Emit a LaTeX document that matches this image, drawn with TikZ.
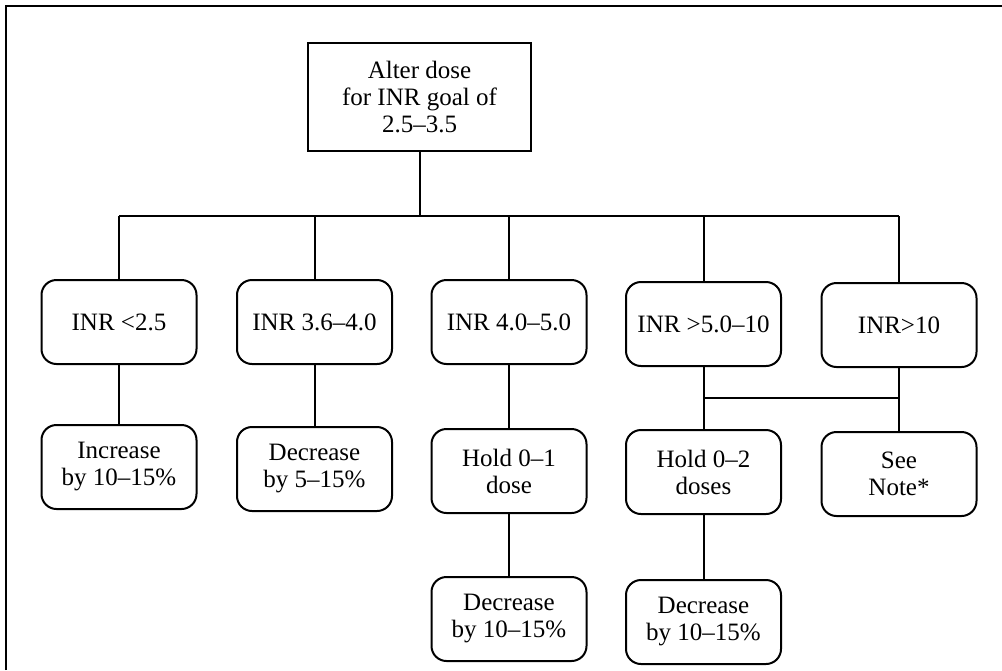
\documentclass[tikz,border=0pt]{standalone}
\usepackage{fontspec}
\setmainfont{Liberation Serif}
\begin{document}
\begin{tikzpicture}[x=1pt,y=-1pt,
  line width=2pt,
  topbox/.style={draw, minimum width=223pt, minimum height=108pt, align=center, inner sep=0pt, font=\fontsize{25}{27}\selectfont},
  stepbox/.style={draw, rounded corners=15pt, minimum width=155pt, minimum height=84pt, align=center, inner sep=0pt, font=\fontsize{25}{27}\selectfont},
  conn/.style={line width=2pt},
  frame/.style={line width=2pt}]
\useasboundingbox (0,0) rectangle (1002,670);
\draw[frame] (6,670) -- (6,6) -- (1002,6);

\node[topbox] (top) at (419.5,97) {Alter dose\\for INR goal of\\2.5–3.5};

\node[stepbox] (a1) at (119,322) {INR <2.5};
\node[stepbox] (b1) at (314.5,322) {INR 3.6–4.0};
\node[stepbox] (c1) at (509,322) {INR 4.0–5.0};
\node[stepbox] (d1) at (703.5,324) {INR >5.0–10};
\node[stepbox] (e1) at (899,325) {INR>10};

\node[stepbox] (a2) at (119,467) {Increase\\by 10–15\%};
\node[stepbox] (b2) at (314.5,469) {Decrease\\by 5–15\%};
\node[stepbox] (c2) at (509,471) {Hold 0–1\\dose};
\node[stepbox] (d2) at (703.5,472) {Hold 0–2\\doses};
\node[stepbox] (e2) at (899,474) {See\\Note*};

\node[stepbox] (c3) at (509,619) {Decrease\\by 10–15\%};
\node[stepbox] (d3) at (703.5,622) {Decrease\\by 10–15\%};

\coordinate (bm) at (top.south |- 0,216);
\coordinate (ba) at (a1.north |- bm);
\coordinate (bb) at (b1.north |- bm);
\coordinate (bc) at (c1.north |- bm);
\coordinate (bd) at (d1.north |- bm);
\coordinate (be) at (e1.north |- bm);
\coordinate (jd) at (d1.south |- 0,398);
\coordinate (je) at (e1.south |- 0,398);

\draw[conn] (top.south) -- (bm);
\draw[conn] (ba) -- (be);
\draw[conn] (ba) -- (a1.north);
\draw[conn] (bb) -- (b1.north);
\draw[conn] (bc) -- (c1.north);
\draw[conn] (bd) -- (d1.north);
\draw[conn] (be) -- (e1.north);

\draw[conn] (a1.south) -- (a2.north);
\draw[conn] (b1.south) -- (b2.north);
\draw[conn] (c1.south) -- (c2.north);
\draw[conn] (c2.south) -- (c3.north);
\draw[conn] (d1.south) -- (d2.north);
\draw[conn] (d2.south) -- (d3.north);
\draw[conn] (e1.south) -- (e2.north);
\draw[conn] (jd) -- (je);
\end{tikzpicture}
\end{document}
